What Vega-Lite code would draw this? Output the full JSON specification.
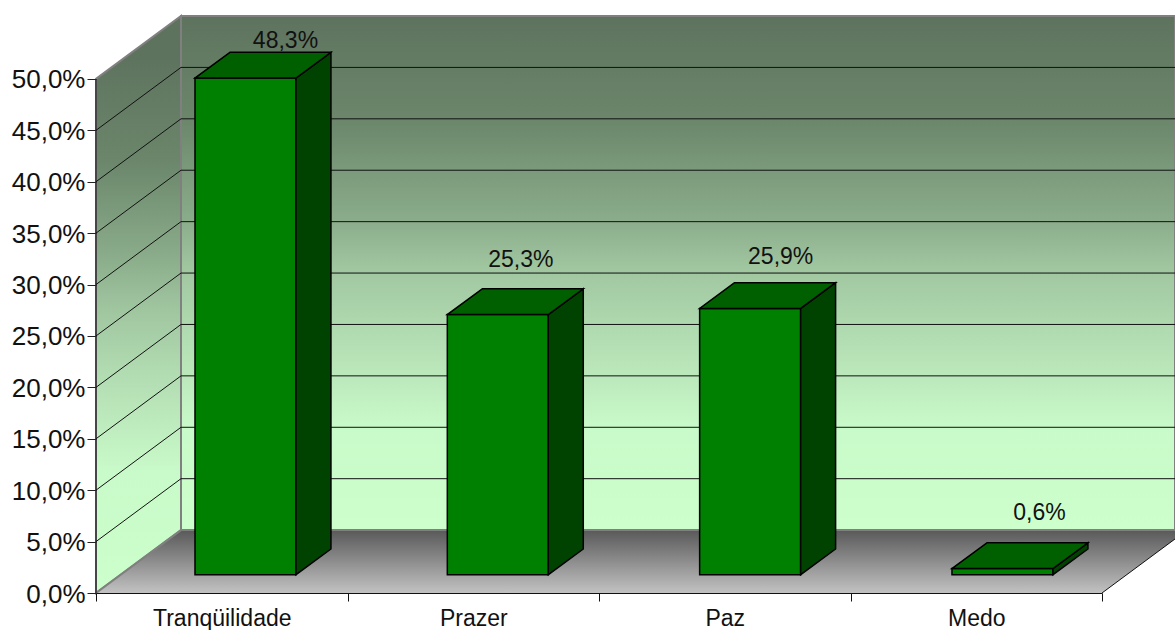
{
  "$schema": "https://vega.github.io/schema/vega-lite/v6.json",
  "description": "Oblique column chart of reported feelings, drawn on walls and a floor set back from the front plane.",
  "autosize": "none",
  "width": 1079,
  "height": 577,
  "padding": {"left": 96, "top": 16, "right": 0, "bottom": 37},
  "background": "white",
  "config": {"view": {"stroke": null}},
  "datasets": {
    "shares": [
      {"category": "Tranqüilidade", "value": 48.3, "labelShiftX": 0.159, "labelShiftY": 2.97},
      {"category": "Prazer", "value": 25.3, "labelShiftX": 0.0915, "labelShiftY": 4.63},
      {"category": "Paz", "value": 25.9, "labelShiftX": 0.1213, "labelShiftY": 4.34},
      {"category": "Medo", "value": 0.6, "labelShiftX": 0.147, "labelShiftY": 4.72}
    ],
    "grid": [
      {"tick": 0}, {"tick": 5}, {"tick": 10}, {"tick": 15}, {"tick": 20},
      {"tick": 25}, {"tick": 30}, {"tick": 35}, {"tick": 40}, {"tick": 45}
    ]
  },
  "resolve": {"scale": {"x": "independent"}},
  "layer": [
    {
      "layer": [
        {
          "data": {"values": [{"from": 0.338, "to": 4.2903, "low": 6.117, "high": 56.117}]},
          "mark": {
            "type": "rect",
            "stroke": "#808080",
            "strokeWidth": 2,
            "fill": {
              "gradient": "linear", "x1": 0, "y1": 0, "x2": 0, "y2": 1,
              "stops": [
                {"offset": 0, "color": "#5e735e"},
                {"offset": 0.2, "color": "#6b866b"},
                {"offset": 0.4, "color": "#8bad8b"},
                {"offset": 0.49, "color": "#a0c6a0"},
                {"offset": 0.61, "color": "#b0dab0"},
                {"offset": 0.71, "color": "#bdeabd"},
                {"offset": 0.8, "color": "#c9fac9"},
                {"offset": 1, "color": "#ccffcc"}
              ]
            }
          },
          "encoding": {
            "x": {"field": "from", "type": "quantitative", "axis": null,
                  "scale": {"domain": [0, 4.2903], "nice": false, "zero": false}},
            "x2": {"field": "to"},
            "y": {
              "field": "high", "type": "quantitative",
              "scale": {"domain": [0, 56.117], "nice": false, "zero": false},
              "axis": {
                "title": null, "grid": false, "zindex": 1, "domain": false,
                "values": [0, 5, 10, 15, 20, 25, 30, 35, 40, 45, 50],
                "labelExpr": "replace(format(datum.value, '.1f'), '.', ',') + '%'",
                "labelFont": "Liberation Sans", "labelFontSize": 26, "labelColor": "#111111",
                "labelPadding": 2, "labelOffset": 1, "tickSize": 9, "tickColor": "#222222"
              }
            },
            "y2": {"field": "low"}
          }
        },
        {
          "data": {"values": [{"d": 0, "low": 0, "high": 50}, {"d": 0.338, "low": 6.117, "high": 56.117}]},
          "mark": {
            "type": "area",
            "stroke": "#808080",
            "strokeWidth": 2,
            "fill": {
              "gradient": "linear", "x1": 0, "y1": 0, "x2": 0, "y2": 1,
              "stops": [
                {"offset": 0.07, "color": "#5e735e"},
                {"offset": 0.25, "color": "#6b866b"},
                {"offset": 0.42, "color": "#8bad8b"},
                {"offset": 0.51, "color": "#a0c6a0"},
                {"offset": 0.61, "color": "#b0dab0"},
                {"offset": 0.7, "color": "#bdeabd"},
                {"offset": 0.79, "color": "#c9fac9"},
                {"offset": 1, "color": "#ccffcc"}
              ]
            }
          },
          "encoding": {
            "x": {"field": "d", "type": "quantitative"},
            "y": {"field": "high", "type": "quantitative"},
            "y2": {"field": "low"}
          }
        },
        {
          "data": {"values": [{"level": 6.117, "l": 0.338, "r": 4.338}, {"level": 0, "l": 0, "r": 4}]},
          "mark": {
            "type": "area",
            "orient": "horizontal",
            "clip": true,
            "fill": {
              "gradient": "linear", "x1": 0, "y1": 0, "x2": 0, "y2": 1,
              "stops": [
                {"offset": 0, "color": "#595959"},
                {"offset": 1, "color": "#c2c2c2"}
              ]
            }
          },
          "encoding": {
            "y": {"field": "level", "type": "quantitative"},
            "x": {"field": "l", "type": "quantitative"},
            "x2": {"field": "r"}
          }
        },
        {
          "data": {"values": [{"x0": 0.338, "x1": 4.338, "y0": 6.117, "y1": 6.117}, {"x0": 0, "x1": 0.338, "y0": 0, "y1": 6.117}]},
          "mark": {"type": "rule", "stroke": "#808080", "strokeWidth": 2, "clip": true},
          "encoding": {
            "x": {"field": "x0", "type": "quantitative"},
            "x2": {"field": "x1"},
            "y": {"field": "y0", "type": "quantitative"},
            "y2": {"field": "y1"}
          }
        },
        {
          "data": {"values": [{"x0": 4, "x1": 4.338, "y0": 0, "y1": 6.117}]},
          "mark": {"type": "rule", "stroke": "#111111", "strokeWidth": 1, "clip": true},
          "encoding": {
            "x": {"field": "x0", "type": "quantitative"},
            "x2": {"field": "x1"},
            "y": {"field": "y0", "type": "quantitative"},
            "y2": {"field": "y1"}
          }
        },
        {
          "data": {"values": [{"x0": 0, "y0": 0, "y1": 50}]},
          "mark": {"type": "rule", "stroke": "#333333", "strokeWidth": 1.5},
          "encoding": {
            "x": {"field": "x0", "type": "quantitative"},
            "y": {"field": "y0", "type": "quantitative"},
            "y2": {"field": "y1"}
          }
        },
        {
          "data": {"name": "grid"},
          "transform": [
            {"filter": "datum.tick > 0"},
            {"calculate": "datum.tick + 6.117", "as": "backLevel"},
            {"calculate": "0", "as": "front"},
            {"calculate": "0.338", "as": "back"}
          ],
          "mark": {"type": "rule", "stroke": "#111111", "strokeWidth": 1},
          "encoding": {
            "x": {"field": "front", "type": "quantitative"},
            "x2": {"field": "back"},
            "y": {"field": "tick", "type": "quantitative"},
            "y2": {"field": "backLevel"}
          }
        },
        {
          "data": {"name": "grid"},
          "transform": [
            {"filter": "datum.tick > 0"},
            {"calculate": "datum.tick + 6.117", "as": "backLevel"},
            {"calculate": "0.338", "as": "back"},
            {"calculate": "4.2903", "as": "edge"}
          ],
          "mark": {"type": "rule", "stroke": "#111111", "strokeWidth": 1},
          "encoding": {
            "x": {"field": "back", "type": "quantitative"},
            "x2": {"field": "edge"},
            "y": {"field": "backLevel", "type": "quantitative"}
          }
        },
        {
          "data": {"name": "shares"},
          "transform": [
            {"calculate": "indexof(['Tranqüilidade', 'Prazer', 'Paz', 'Medo'], datum.category)", "as": "idx"},
            {"calculate": "0.3936 + datum.idx * 1.0033", "as": "left"},
            {"calculate": "datum.left + 0.4016", "as": "right"},
            {"calculate": "1.78", "as": "base"},
            {"calculate": "datum.base + datum.value", "as": "top"}
          ],
          "layer": [
            {
              "mark": {"type": "rect", "fill": "#008000", "stroke": "#000000", "strokeWidth": 1.5},
              "encoding": {
                "x": {"field": "left", "type": "quantitative"},
                "x2": {"field": "right"},
                "y": {"field": "top", "type": "quantitative"},
                "y2": {"field": "base"}
              }
            },
            {
              "transform": [
                {"calculate": "[0, 1]", "as": "t"},
                {"flatten": ["t"]},
                {"calculate": "datum.right + datum.t * 0.139", "as": "sx"},
                {"calculate": "datum.top + datum.t * 2.5", "as": "sTop"},
                {"calculate": "datum.base + datum.t * 2.5", "as": "sBase"}
              ],
              "mark": {"type": "area", "fill": "#004200", "stroke": "#000000", "strokeWidth": 1.5},
              "encoding": {
                "detail": {"field": "category"},
                "x": {"field": "sx", "type": "quantitative"},
                "y": {"field": "sTop", "type": "quantitative"},
                "y2": {"field": "sBase"}
              }
            },
            {
              "transform": [
                {"calculate": "[0, 1]", "as": "t"},
                {"flatten": ["t"]},
                {"calculate": "datum.top + datum.t * 2.5", "as": "rise"},
                {"calculate": "datum.left + datum.t * 0.139", "as": "capL"},
                {"calculate": "datum.right + datum.t * 0.139", "as": "capR"}
              ],
              "mark": {"type": "area", "orient": "horizontal", "fill": "#006000", "stroke": "#000000", "strokeWidth": 1.5},
              "encoding": {
                "detail": {"field": "category"},
                "y": {"field": "rise", "type": "quantitative"},
                "x": {"field": "capL", "type": "quantitative"},
                "x2": {"field": "capR"}
              }
            },
            {
              "transform": [
                {"calculate": "(datum.left + datum.right) / 2 + datum.labelShiftX", "as": "lx"},
                {"calculate": "datum.top + datum.labelShiftY", "as": "ly"},
                {"calculate": "replace(format(datum.value, '.1f'), '.', ',') + '%'", "as": "label"}
              ],
              "mark": {"type": "text", "font": "Liberation Sans", "fontSize": 23, "color": "#111111", "align": "center", "baseline": "alphabetic"},
              "encoding": {
                "x": {"field": "lx", "type": "quantitative"},
                "y": {"field": "ly", "type": "quantitative"},
                "text": {"field": "label"}
              }
            }
          ]
        }
      ]
    },
    {
      "data": {"name": "shares"},
      "mark": {"type": "bar", "opacity": 0},
      "encoding": {
        "x": {
          "field": "category", "type": "nominal", "sort": null,
          "scale": {"range": [0, 1006], "paddingInner": 0, "paddingOuter": 0},
          "axis": {
            "title": null, "orient": "bottom", "zindex": 1, "labelAngle": 0,
            "tickBand": "extent", "tickSize": 8, "tickColor": "#111111",
            "domainColor": "#111111", "labelFont": "Liberation Sans", "labelFontSize": 23,
            "labelColor": "#111111", "labelPadding": 6
          }
        },
        "y": {"datum": 0, "type": "quantitative"}
      }
    }
  ]
}
